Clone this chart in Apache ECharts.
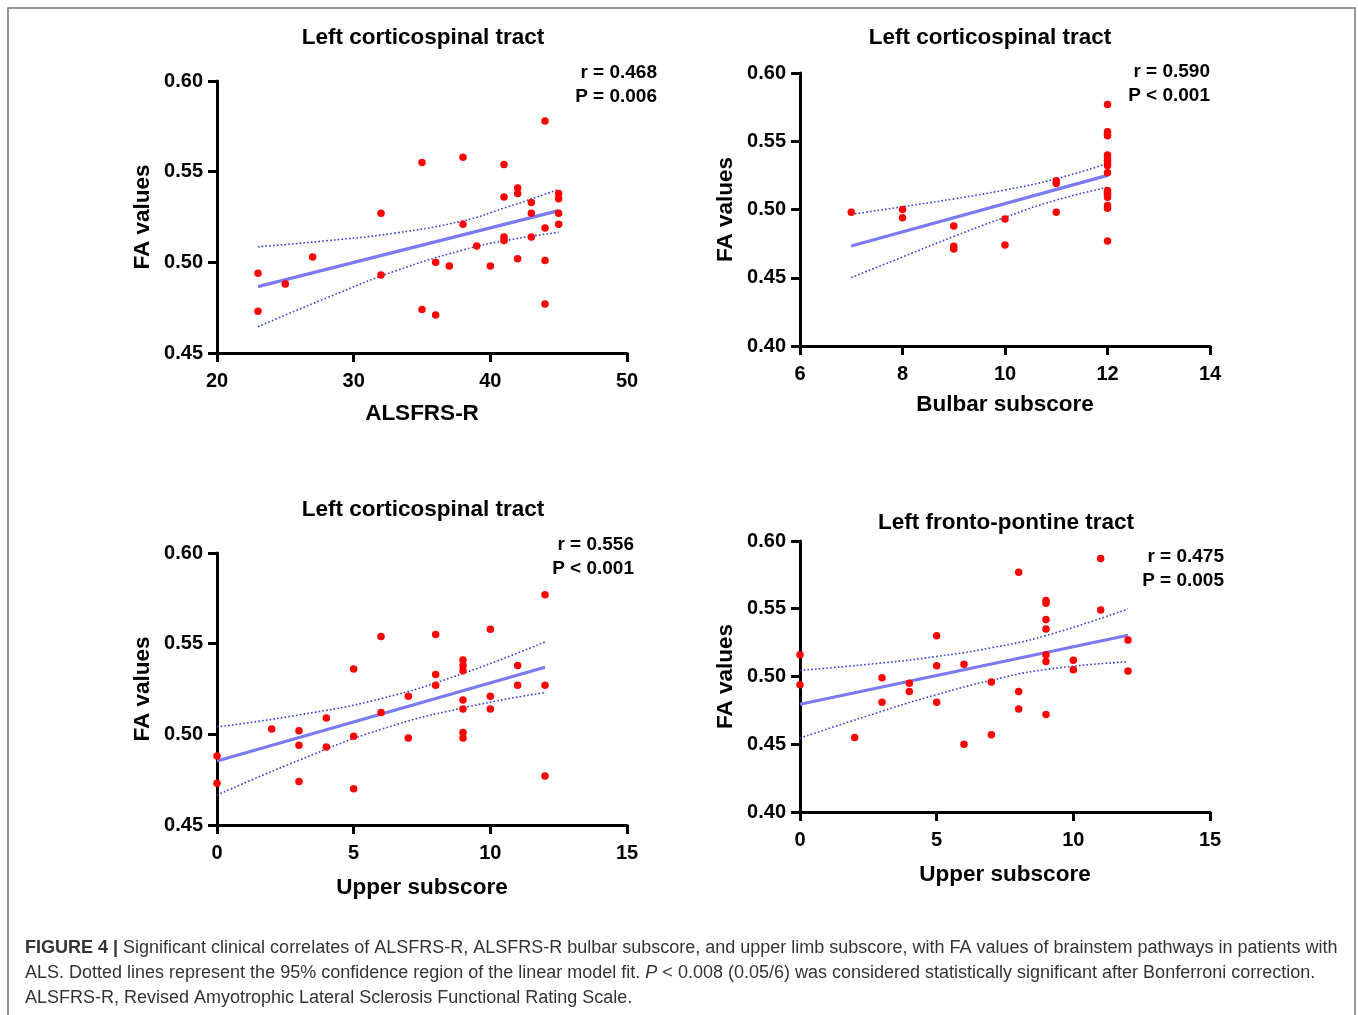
<!DOCTYPE html>
<html>
<head>
<meta charset="utf-8">
<script src="https://cdn.jsdelivr.net/npm/echarts@6/dist/echarts.min.js"></script>
<style>
  html, body { margin: 0; padding: 0; background: #fff; }
  #myChart { width: 1358px; height: 1015px; }
</style>
</head>
<body>
<div id="myChart"></div>
<script>
// panel A: ALSFRS-R vs FA (left corticospinal)
var alsfrsX = [23, 23, 25, 27, 32, 32, 35, 35, 36, 36, 37, 38, 38, 39, 40, 41, 41, 41, 41, 42, 42, 42, 43, 43, 43, 44, 44, 44, 44, 45, 45, 45, 45];
var alsfrsY = [0.494, 0.473, 0.488, 0.503, 0.527, 0.493, 0.555, 0.474, 0.500, 0.471, 0.498, 0.558, 0.521, 0.509, 0.498, 0.554, 0.536, 0.514, 0.512, 0.541, 0.538, 0.502, 0.533, 0.527, 0.514, 0.578, 0.519, 0.501, 0.477, 0.538, 0.535, 0.527, 0.521];
var alsfrsFitX = [23, 45];
var alsfrsFitY = [0.4866, 0.5285];
var alsfrsCiX = [23, 28, 33, 38, 41, 45];
var alsfrsUpper = [0.5086, 0.5119, 0.5161, 0.5229, 0.5299, 0.5402];
var alsfrsLower = [0.4645, 0.4803, 0.4951, 0.5068, 0.5119, 0.5165];

// panel B: bulbar subscore
var bulbarX = [7, 8, 8, 9, 9, 9, 10, 10, 11, 11, 11, 12, 12, 12, 12, 12, 12, 12, 12, 12, 12, 12, 12, 12, 12, 12, 12, 12];
var bulbarY = [0.498, 0.500, 0.494, 0.488, 0.473, 0.471, 0.493, 0.474, 0.521, 0.519, 0.498, 0.577, 0.557, 0.555, 0.554, 0.540, 0.538, 0.536, 0.534, 0.532, 0.527, 0.514, 0.512, 0.511, 0.509, 0.503, 0.501, 0.477];
var bulbarFitX = [7, 12];
var bulbarFitY = [0.4733, 0.5250];
var bulbarCiX = [7, 8, 9, 10, 11, 12];
var bulbarUpper = [0.4965, 0.5020, 0.5078, 0.5143, 0.5225, 0.5338];
var bulbarLower = [0.4501, 0.4652, 0.4802, 0.4943, 0.5069, 0.5162];

// panel C: upper subscore (left corticospinal)
var upperCstX = [0, 0, 2, 3, 3, 3, 4, 4, 5, 5, 5, 6, 6, 7, 7, 8, 8, 8, 9, 9, 9, 9, 9, 9, 9, 10, 10, 10, 11, 11, 12, 12, 12];
var upperCstY = [0.488, 0.473, 0.503, 0.502, 0.494, 0.474, 0.509, 0.493, 0.536, 0.499, 0.470, 0.554, 0.512, 0.521, 0.498, 0.555, 0.533, 0.527, 0.541, 0.538, 0.535, 0.519, 0.514, 0.501, 0.498, 0.558, 0.521, 0.514, 0.538, 0.527, 0.577, 0.527, 0.477];
var upperCstFitX = [0, 12];
var upperCstFitY = [0.4853, 0.5370];
var upperCstCiX = [0, 3, 6, 9, 12];
var upperCstUpper = [0.5041, 0.5107, 0.5197, 0.5336, 0.5510];
var upperCstLower = [0.4665, 0.4857, 0.5027, 0.5146, 0.5230];

// panel D: upper subscore (left fronto-pontine)
var upperFptX = [0, 0, 2, 3, 3, 4, 4, 5, 5, 5, 6, 6, 7, 7, 8, 8, 8, 9, 9, 9, 9, 9, 9, 9, 10, 10, 11, 11, 12, 12];
var upperFptY = [0.516, 0.494, 0.455, 0.499, 0.481, 0.495, 0.489, 0.530, 0.508, 0.481, 0.509, 0.450, 0.496, 0.457, 0.577, 0.489, 0.476, 0.556, 0.554, 0.542, 0.535, 0.516, 0.511, 0.472, 0.512, 0.505, 0.587, 0.549, 0.527, 0.504];
var upperFptFitX = [0, 12];
var upperFptFitY = [0.4795, 0.5304];
var upperFptCiX = [0, 3, 5, 7, 9, 12];
var upperFptUpper = [0.5045, 0.5100, 0.5148, 0.5212, 0.5302, 0.5499];
var upperFptLower = [0.4545, 0.4744, 0.4866, 0.4972, 0.5052, 0.5109];

var titles = ['Left corticospinal tract', 'Left corticospinal tract', 'Left corticospinal tract', 'Left fronto-pontine tract'];
var xNames = ['ALSFRS-R', 'Bulbar subscore', 'Upper subscore', 'Upper subscore'];
var statR = ['r = 0.468', 'r = 0.590', 'r = 0.556', 'r = 0.475'];
var statP = ['P = 0.006', 'P < 0.001', 'P < 0.001', 'P = 0.005'];

var FONT = '"Liberation Sans", Arial, Helvetica, sans-serif';

function zip(xs, ys) {
  var out = [];
  for (var i = 0; i < xs.length; i++) out.push([xs[i], ys[i]]);
  return out;
}

var panels = [
  {x: alsfrsX, y: alsfrsY, fx: alsfrsFitX, fy: alsfrsFitY, cx: alsfrsCiX, cu: alsfrsUpper, cl: alsfrsLower,
   grid: {left: 217, top: 81, width: 410, height: 272}, xmin: 20, xmax: 50, xint: 10, ymin: 0.45, xGap: 49,
   title: [423, 38], stat: [657, 73]},
  {x: bulbarX, y: bulbarY, fx: bulbarFitX, fy: bulbarFitY, cx: bulbarCiX, cu: bulbarUpper, cl: bulbarLower,
   grid: {left: 800, top: 73, width: 410, height: 273}, xmin: 6, xmax: 14, xint: 2, ymin: 0.40, xGap: 47,
   title: [990, 38], stat: [1210, 72]},
  {x: upperCstX, y: upperCstY, fx: upperCstFitX, fy: upperCstFitY, cx: upperCstCiX, cu: upperCstUpper, cl: upperCstLower,
   grid: {left: 217, top: 553, width: 410, height: 272}, xmin: 0, xmax: 15, xint: 5, ymin: 0.45, xGap: 51,
   title: [423, 510], stat: [634, 545]},
  {x: upperFptX, y: upperFptY, fx: upperFptFitX, fy: upperFptFitY, cx: upperFptCiX, cu: upperFptUpper, cl: upperFptLower,
   grid: {left: 800, top: 541, width: 410, height: 271}, xmin: 0, xmax: 15, xint: 5, ymin: 0.40, xGap: 51,
   title: [1006, 523], stat: [1224, 557]}
];

var axisLineStyle = {color: '#000', width: 3};
var grids = [], xAxes = [], yAxes = [], series = [], graphics = [];

panels.forEach(function (p, i) {
  grids.push(p.grid);
  xAxes.push({
    gridIndex: i, type: 'value', min: p.xmin, max: p.xmax, interval: p.xint,
    name: xNames[i], nameLocation: 'middle', nameGap: p.xGap,
    nameTextStyle: {fontFamily: FONT, fontWeight: 'bold', fontSize: 22.5, color: '#000'},
    axisLine: {show: true, onZero: false, lineStyle: axisLineStyle},
    axisTick: {show: true, length: 9, lineStyle: axisLineStyle},
    axisLabel: {fontFamily: FONT, fontWeight: 'bold', fontSize: 20, color: '#000', margin: 18},
    splitLine: {show: false}
  });
  yAxes.push({
    gridIndex: i, type: 'value', min: p.ymin, max: 0.60, interval: 0.05,
    name: 'FA values', nameLocation: 'middle', nameGap: 63,
    nameTextStyle: {fontFamily: FONT, fontWeight: 'bold', fontSize: 22.5, color: '#000'},
    axisLine: {show: true, onZero: false, lineStyle: axisLineStyle},
    axisTick: {show: true, length: 9, lineStyle: axisLineStyle},
    axisLabel: {fontFamily: FONT, fontWeight: 'bold', fontSize: 20, color: '#000', margin: 14,
      formatter: function (v) { return v.toFixed(2); }},
    splitLine: {show: false}
  });
  series.push({
    type: 'line', xAxisIndex: i, yAxisIndex: i, data: zip(p.cx, p.cu), smooth: true,
    symbol: 'none', lineStyle: {color: '#3a3ad8', width: 1.6, type: [1.6, 2.2]}, z: 2
  });
  series.push({
    type: 'line', xAxisIndex: i, yAxisIndex: i, data: zip(p.cx, p.cl), smooth: true,
    symbol: 'none', lineStyle: {color: '#3a3ad8', width: 1.6, type: [1.6, 2.2]}, z: 2
  });
  series.push({
    type: 'line', xAxisIndex: i, yAxisIndex: i, data: zip(p.fx, p.fy),
    symbol: 'none', lineStyle: {color: '#7a7af2', width: 3.2}, z: 3
  });
  series.push({
    type: 'scatter', xAxisIndex: i, yAxisIndex: i, data: zip(p.x, p.y),
    symbol: 'circle', symbolSize: 7.5, itemStyle: {color: '#ff0000', opacity: 1}, z: 4
  });
  graphics.push({
    type: 'text', x: p.title[0], y: p.title[1],
    style: {text: titles[i], fontFamily: FONT, fontWeight: 'bold', fontSize: 22.5, fill: '#000',
      textAlign: 'center', textVerticalAlign: 'middle'}
  });
  graphics.push({
    type: 'text', x: p.stat[0], y: p.stat[1],
    style: {text: statR[i], fontFamily: FONT, fontWeight: 'bold', fontSize: 19, fill: '#000',
      textAlign: 'right', textVerticalAlign: 'middle'}
  });
  graphics.push({
    type: 'text', x: p.stat[0], y: p.stat[1] + 24,
    style: {text: statP[i], fontFamily: FONT, fontWeight: 'bold', fontSize: 19, fill: '#000',
      textAlign: 'right', textVerticalAlign: 'middle'}
  });
});

// frame + caption
graphics.push({
  type: 'rect', shape: {x: 8, y: 8, width: 1347, height: 1040},
  style: {fill: 'none', stroke: '#777', lineWidth: 1.5}, silent: true
});
var captionLines = [
  '{b|FIGURE 4 |} Significant clinical correlates of ALSFRS-R, ALSFRS-R bulbar subscore, and upper limb subscore, with FA values of brainstem pathways in patients with',
  'ALS. Dotted lines represent the 95% confidence region of the linear model fit. {i|P} < 0.008 (0.05/6) was considered statistically significant after Bonferroni correction.',
  'ALSFRS-R, Revised Amyotrophic Lateral Sclerosis Functional Rating Scale.'
];
captionLines.forEach(function (t, k) {
  graphics.push({
    type: 'text', x: 25, y: 948 + k * 25,
    style: {text: t, fontFamily: FONT, fontSize: 18, fill: '#333', textVerticalAlign: 'middle',
      rich: {b: {fontFamily: FONT, fontWeight: 'bold', fontSize: 18, fill: '#333'},
             i: {fontFamily: FONT, fontStyle: 'italic', fontSize: 18, fill: '#333'}}}
  });
});

var myChart = echarts.init(document.getElementById('myChart'));
myChart.setOption({
  animation: false,
  backgroundColor: '#fff',
  grid: grids,
  xAxis: xAxes,
  yAxis: yAxes,
  series: series,
  graphic: graphics
});
window.onresize = myChart.resize;
</script>
</body>
</html>
